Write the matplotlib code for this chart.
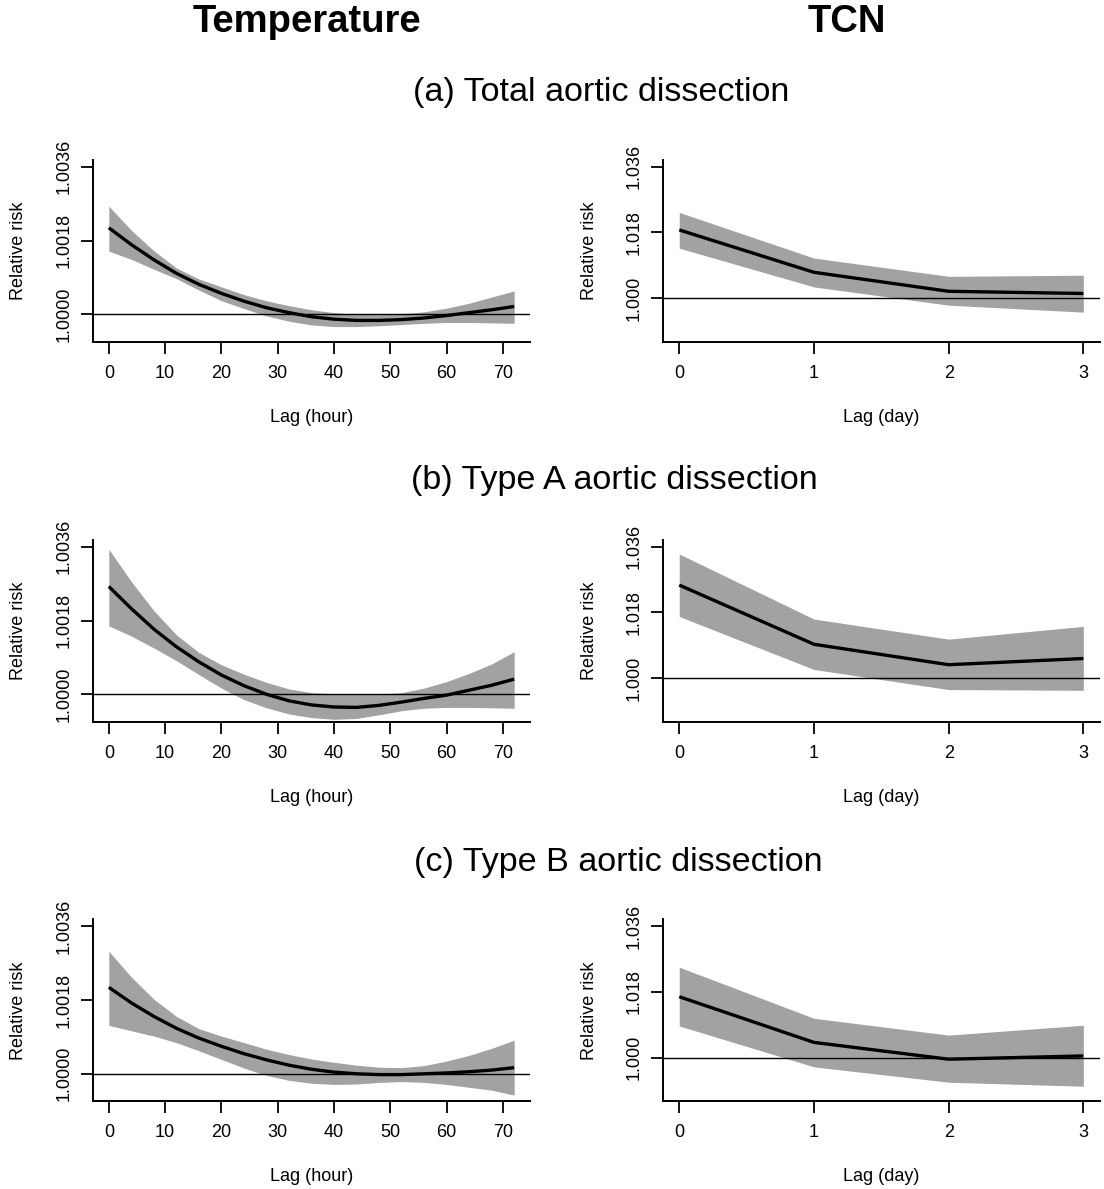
import matplotlib
matplotlib.use("Agg")
import matplotlib.pyplot as plt
import numpy as np

plt.rcParams['font.family'] = ['Liberation Sans', 'DejaVu Sans']

# ---------------- data ----------------
hours = [0, 4, 8, 12, 16, 20, 24, 28, 32, 36, 40, 44, 48, 52, 56, 60, 64, 68, 72]
days = [0, 1, 2, 3]

temp_total_rr = [1.00211, 1.00170, 1.00133, 1.00100, 1.00073, 1.00051, 1.00032, 1.00016, 1.00004, 0.99994,
                 0.99988, 0.99985, 0.99985, 0.99987, 0.99991, 0.99997, 1.00004, 1.00011, 1.00019]
temp_total_hi = [1.00264, 1.00205, 1.00155, 1.00113, 1.00086, 1.00067, 1.00048, 1.00033, 1.00021, 1.00011,
                 1.00004, 1.00000, 0.99999, 1.00001, 1.00006, 1.00015, 1.00027, 1.00042, 1.00057]
temp_total_lo = [1.00154, 1.00134, 1.00110, 1.00087, 1.00059, 1.00033, 1.00014, 0.99996, 0.99983, 0.99974,
                 0.99970, 0.99970, 0.99972, 0.99975, 0.99978, 0.99980, 0.99980, 0.99979, 0.99978]

temp_a_rr = [1.00263, 1.00209, 1.00159, 1.00116, 1.00079, 1.00047, 1.00021, 1.00000, 0.99984, 0.99974,
             0.99969, 0.99968, 0.99973, 0.99981, 0.99990, 0.99998, 1.00010, 1.00022, 1.00037]
temp_a_hi = [1.00354, 1.00275, 1.00204, 1.00145, 1.00102, 1.00072, 1.00049, 1.00029, 1.00013, 1.00004,
             1.00001, 1.00000, 1.00000, 1.00004, 1.00015, 1.00031, 1.00051, 1.00074, 1.00104]
temp_a_lo = [1.00167, 1.00142, 1.00113, 1.00082, 1.00048, 1.00015, 0.99987, 0.99967, 0.99952, 0.99943,
             0.99939, 0.99941, 0.99950, 0.99960, 0.99966, 0.99968, 0.99968, 0.99967, 0.99966]

temp_b_rr = [1.00211, 1.00173, 1.00140, 1.00111, 1.00087, 1.00067, 1.00049, 1.00034, 1.00021, 1.00011,
             1.00004, 1.00000, 0.99998, 0.99998, 1.00000, 1.00002, 1.00005, 1.00009, 1.00015]
temp_b_hi = [1.00299, 1.00236, 1.00182, 1.00140, 1.00110, 1.00092, 1.00076, 1.00060, 1.00047, 1.00036,
             1.00028, 1.00021, 1.00016, 1.00015, 1.00020, 1.00031, 1.00045, 1.00062, 1.00082]
temp_b_lo = [1.00118, 1.00105, 1.00092, 1.00076, 1.00056, 1.00035, 1.00014, 0.99996, 0.99984, 0.99977,
             0.99974, 0.99975, 0.99979, 0.99981, 0.99979, 0.99974, 0.99967, 0.99960, 0.99948]

tcn_total_rr = [1.0187, 1.0071, 1.0019, 1.0013]
tcn_total_hi = [1.0235, 1.0110, 1.0060, 1.0063]
tcn_total_lo = [1.0137, 1.0031, 0.9981, 0.9962]

tcn_a_rr = [1.0255, 1.0093, 1.0037, 1.0054]
tcn_a_hi = [1.0340, 1.0162, 1.0107, 1.0142]
tcn_a_lo = [1.0169, 1.0024, 0.9969, 0.9967]

tcn_b_rr = [1.0167, 1.0042, 0.9996, 1.0005]
tcn_b_hi = [1.0248, 1.0108, 1.0062, 1.0089]
tcn_b_lo = [1.0087, 0.9975, 0.9933, 0.9922]

col_titles = ["Temperature", "TCN"]
row_titles = ["(a) Total aortic dissection", "(b) Type A aortic dissection", "(c) Type B aortic dissection"]
temp_yticks = [1.0000, 1.0018, 1.0036]
temp_yticklabels = ["1.0000", "1.0018", "1.0036"]
tcn_yticks = [1.000, 1.018, 1.036]
tcn_yticklabels = ["1.000", "1.018", "1.036"]
hour_ticks = [0, 10, 20, 30, 40, 50, 60, 70]
day_ticks = [0, 1, 2, 3]

# ---------------- layout ----------------
W, H = 1104, 1189
fig = plt.figure(figsize=(W / 100, H / 100), dpi=100)

def fpos(x0, x1, ytop, ybot):
    return [x0 / W, 1 - ybot / H, (x1 - x0) / W, (ybot - ytop) / H]

row_tops = [160.0, 540.0, 919.5]
panel_h = 181.5
left_x = (92.6, 530.4)
right_x = (663.1, 1099.5)

temp_data = [(temp_total_rr, temp_total_lo, temp_total_hi),
             (temp_a_rr, temp_a_lo, temp_a_hi),
             (temp_b_rr, temp_b_lo, temp_b_hi)]
tcn_data = [(tcn_total_rr, tcn_total_lo, tcn_total_hi),
            (tcn_a_rr, tcn_a_lo, tcn_a_hi),
            (tcn_b_rr, tcn_b_lo, tcn_b_hi)]

band_col = '#a2a2a2'
tick_fs = 13
lab_fs = 13

def style(ax, xlim, ylim, xt, yt, ytl, xlabel):
    ax.set_xlim(*xlim)
    ax.set_ylim(*ylim)
    for s in ['top', 'right']:
        ax.spines[s].set_visible(False)
    for s in ['left', 'bottom']:
        ax.spines[s].set_linewidth(1.4)
    ax.set_xticks(xt)
    ax.set_xticklabels([str(v) for v in xt], fontsize=tick_fs)
    ax.set_yticks(yt)
    ax.set_yticklabels(ytl, fontsize=tick_fs, rotation=90, va='center')
    ax.tick_params(axis='both', length=8.4, width=1.3, direction='out')
    ax.tick_params(axis='x', pad=8.5)
    ax.tick_params(axis='y', pad=6)
    ax.set_xlabel(xlabel, fontsize=lab_fs, va='center')
    ax.xaxis.set_label_coords(0.5, -75.5 / panel_h)
    ax.set_ylabel("Relative risk", fontsize=lab_fs, va='center')

for i in range(3):
    top = row_tops[i]
    # Temperature
    ax = fig.add_axes(fpos(left_x[0], left_x[1], top, top + panel_h))
    rr, lo, hi = temp_data[i]
    ax.fill_between(hours, lo, hi, color=band_col, linewidth=0)
    ax.axhline(1.0, color='black', linewidth=1.0)
    ax.plot(hours, rr, color='black', linewidth=2.4, solid_capstyle='butt')
    style(ax, (-2.88, 74.88), (0.999336, 1.003764), hour_ticks, temp_yticks, temp_yticklabels, "Lag (hour)")
    ax.yaxis.set_label_coords((18.3 - left_x[0]) / (left_x[1] - left_x[0]), 0.5)
    # TCN
    ax = fig.add_axes(fpos(right_x[0], right_x[1], top, top + panel_h))
    rr, lo, hi = tcn_data[i]
    ax.fill_between(days, lo, hi, color=band_col, linewidth=0)
    ax.axhline(1.0, color='black', linewidth=1.0)
    ax.plot(days, rr, color='black', linewidth=2.4, solid_capstyle='butt')
    style(ax, (-0.12, 3.12), (0.98816, 1.03784), day_ticks, tcn_yticks, tcn_yticklabels, "Lag (day)")
    ax.yaxis.set_label_coords((589 - right_x[0]) / (right_x[1] - right_x[0]), 0.5)

# column titles
fig.text(307 / W, 1 - 22 / H, col_titles[0], fontsize=27.5, fontweight='bold', ha='center', va='center')
fig.text(846.5 / W, 1 - 22 / H, col_titles[1], fontsize=27.5, fontweight='bold', ha='center', va='center')

# row titles
row_cx = [601.5, 614, 618.5]
row_cy = [93, 480, 862]
for t, cx, cy in zip(row_titles, row_cx, row_cy):
    fig.text(cx / W, 1 - cy / H, t, fontsize=24.6, ha='center', va='center')

fig.savefig("out.png", dpi=100)
